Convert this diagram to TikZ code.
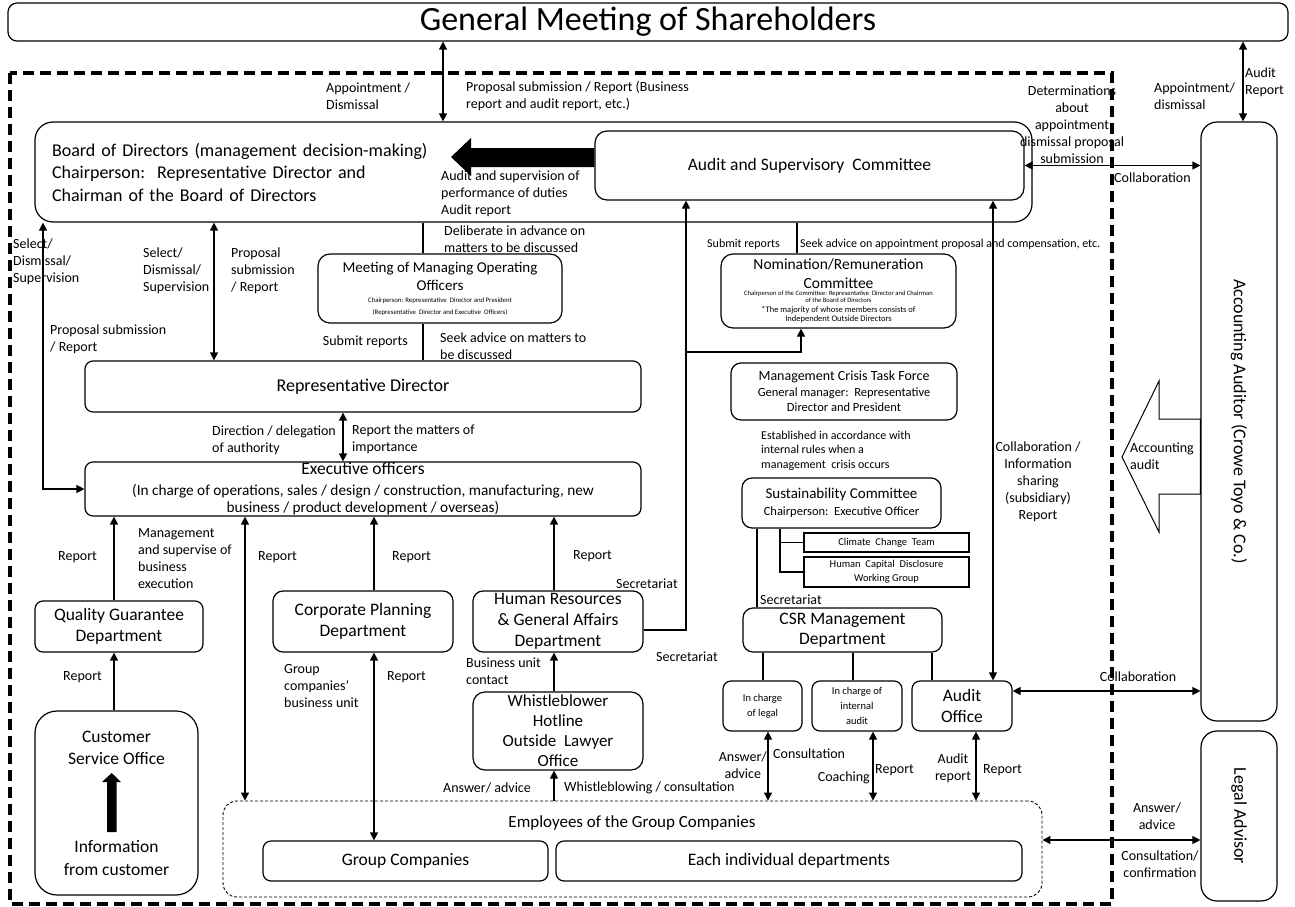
\documentclass[tikz,border=0pt]{standalone}
\usepackage{fontspec}
\setmainfont{Carlito}
\usepackage{graphicx}
\usetikzlibrary{arrows.meta,calc}
\newcommand\fsz[2]{\fontsize{#1}{#2}\selectfont}
\begin{document}
\begin{tikzpicture}[x=1pt,y=-1pt,
  box/.style={draw,rounded corners=8pt,line width=1.2pt,inner sep=0pt,align=center,font=\fsz{17.5}{21}},
  sqbox/.style={draw,line width=1.1pt,inner sep=0pt,align=center,font=\fsz{10.5}{13.5}},
  lbl/.style={inner sep=0pt,font=\fsz{14}{17}},
  ln/.style={line width=1.2pt},
  dbl/.style={ln,{Triangle[length=8pt,width=8pt]}-{Triangle[length=8pt,width=8pt]}},
  arr/.style={ln,-{Triangle[length=8pt,width=8pt]}},
]
\useasboundingbox (0,0) rectangle (1295,907);

% ---------- boxes ----------
\node[box, rounded corners=9pt, minimum width=1280, minimum height=38, font=\fsz{34}{36}] (gm) at (648,22) {General Meeting of Shareholders};

\draw[line width=3.2pt, dash pattern=on 11pt off 6pt] (10,73) rectangle (1112,904);

\node[box, rounded corners=18pt, minimum height=100, text width=963, inner xsep=17pt, align=left, font=\fsz{18}{22.5}] (board) at (533.5,172) {Board of Directors (management decision-making)\\Chairperson:\ \ Representative Director and\\Chairman of the Board of Directors};

\node[box, rounded corners=12pt, minimum width=429, minimum height=69] (audit) at (809.5,165.5) {Audit and Supervisory\ \ Committee};

\node[box, rounded corners=12pt, minimum width=244, minimum height=69, font=\fsz{15}{18}] (meet) at (440,288.5) {Meeting of Managing Operating\\Officers\\[-6pt]\fsz{6.8}{8}Chairperson: Representative\ \ Director and President\\[-6pt]\fsz{6.8}{8}(Representative\ \ Director and Executive\ \ Officers)};

\node[box, rounded corners=12pt, minimum width=235, minimum height=74, font=\fsz{15.5}{19}] (nom) at (838.5,291) {Nomination/Remuneration\\Committee\\[-12pt]\fsz{6.6}{8}Chairperson of the Committee: Representative\ \ Director and Chairman\\[-12pt]\fsz{6.6}{8}of the Board of Directors\\[-8.5pt]\fsz{8.5}{10}*The majority of whose members consists of\\[-10pt]\fsz{8.5}{10}Independent Outside Directors};

\node[box, minimum width=556, minimum height=51, font=\fsz{18}{21}] (rep) at (363,386.5) {Representative Director};

\node[box, minimum width=556, minimum height=54, font=\fsz{15.3}{17}] (exec) at (363,489) {\fsz{17.5}{20}Executive officers\\[4pt](In charge of operations, sales / design / construction, manufacturing, new\\business / product development / overseas)};

\node[box, rounded corners=10pt, minimum width=226, minimum height=57, font=\fsz{12.5}{15}] (mctf) at (844,391.5) {\fsz{14}{15}Management Crisis Task Force\\[1pt]General manager:\ \ Representative\\Director and President};

\node[box, rounded corners=10pt, minimum width=199, minimum height=50, font=\fsz{12.5}{17}] (sust) at (841.5,503) {\fsz{15}{17}Sustainability Committee\\Chairperson:\ \ Executive Officer};

\node[sqbox, minimum width=165, minimum height=19] (clim) at (886.5,542.5) {Climate\ \ Change\ \ Team};
\node[sqbox, minimum width=165, minimum height=30] (hcap) at (886.5,572) {Human\ \ Capital\ \ Disclosure\\Working Group};

\node[box, rounded corners=10pt, minimum width=199, minimum height=44, font=\fsz{17.5}{20}] (csr) at (842.5,630) {CSR Management\\Department};

\node[box, minimum width=79, minimum height=50, font=\fsz{10.5}{15}] (legal) at (762.5,706) {In charge\\of legal};
\node[box, minimum width=90, minimum height=50, font=\fsz{10.5}{15}] (iaud) at (857,706) {In charge of\\internal\\audit};
\node[box, minimum width=100, minimum height=50] (aoff) at (962,706) {Audit\\Office};

\node[box, minimum width=168, minimum height=51] (qg) at (119,626.5) {Quality Guarantee\\Department};
\node[box, rounded corners=10pt, minimum width=180, minimum height=61] (cp) at (363,621.5) {Corporate Planning\\Department};
\node[box, rounded corners=10pt, minimum width=170, minimum height=61, font=\fsz{17.5}{21}] (hr) at (558,621.5) {Human Resources\\\& General Affairs\\Department};
\node[box, rounded corners=12pt, minimum width=170, minimum height=78, font=\fsz{17}{20}] (wb) at (558,731) {Whistleblower\\Hotline\\Outside\ \ Lawyer\\Office};

\node[box, rounded corners=22pt, minimum width=163, minimum height=184] (cust) at (116.5,803) {};
\node[inner sep=0pt, align=center, font=\fsz{17.5}{22}] (custt) at (116.5,748) {Customer\\Service Office};
\node[inner sep=0pt, align=center, font=\fsz{17.5}{23}] (infot) at (116.5,858.5) {Information\\from customer};
\fill (107,832) -- (107,782) -- (102,782) -- (111.7,773) -- (121,782) -- (116.5,782) -- (116.5,832) -- cycle;

\node[draw, rounded corners=14pt, line width=0.9pt, dash pattern=on 3pt off 2pt, minimum width=819, minimum height=96, inner sep=0pt] (emp) at (632.5,849) {};
\node[inner sep=0pt, font=\fsz{17}{20}] (empt) at (632,823) {Employees of the Group Companies};
\node[box, minimum width=285, minimum height=40] (gc) at (405.5,861) {Group Companies};
\node[box, minimum width=466, minimum height=40] (eid) at (789,861) {Each individual departments};

\node[box, rounded corners=16pt, minimum width=76, minimum height=599, font=\fsz{18}{21}] (aa) at (1239,421.5) {\rotatebox[origin=c]{-90}{Accounting Auditor (Crowe Toyo \& Co.)}};
\node[box, rounded corners=16pt, minimum width=76, minimum height=170, font=\fsz{18}{21}] (la) at (1239,816) {\rotatebox[origin=c]{-90}{Legal Advisor}};

% block arrow audit -> board
\coordinate (bdtip) at (451,157);
\fill (audit.west |- 0,148) -- (471,148) -- (471,138) -- (bdtip) -- (471,176) -- (471,167) -- (audit.west |- 0,167) -- cycle;

% hollow accounting audit arrow
\draw[line width=1pt, fill=white] (1122,457) -- (1159,381) -- (1159,419) -- (aa.west |- 0,419) -- (aa.west |- 0,494) -- (1159,494) -- (1159,532) -- cycle;

% ---------- connectors ----------
\draw[dbl] (gm.south -| 443,0) -- (board.north -| 443,0);
\draw[dbl] (gm.south -| 1243,0) -- (aa.north -| 1243,0);
\draw[dbl] (audit.east) -- (aa.west |- audit.east);
\draw[dbl] (audit.south -| 993,0) -- (aoff.north -| 993,0);
\draw[dbl] (board.south -| 214,0) -- (rep.north -| 214,0);
\draw[dbl] (board.south -| 43,0) |- (exec.west);
\draw[ln] (board.south -| 423,0) -- (meet.north -| 423,0);
\draw[ln] (meet.south -| 423,0) -- (rep.north -| 423,0);
\draw[ln] (board.south -| 797,0) -- (nom.north -| 797,0);
\coordinate (hrj) at (686,352);
\draw[arr] (hr.east |- 0,630) -| (audit.south -| hrj);
\draw[arr] (hrj) -| (nom.south -| 801,0);
\draw[dbl] (rep.south -| 343,0) -- (exec.north -| 343,0);
\draw[arr] (qg.north -| 114,0) -- (exec.south -| 114,0);
\draw[dbl] (exec.south -| 245,0) -- (emp.north -| 245,0);
\draw[arr] (cp.north -| 374,0) -- (exec.south -| 374,0);
\draw[arr] (hr.north -| 554,0) -- (exec.south -| 554,0);
\draw[arr] (cust.north -| 114,0) -- (qg.south -| 114,0);
\draw[dbl] (cp.south -| 374,0) -- (gc.north -| 374,0);
\draw[arr] (wb.north -| 554,0) -- (hr.south -| 554,0);
\draw[arr] (emp.north -| 554,0) -- (wb.south -| 554,0);
\draw[ln] (csr.south -| 763,0) -- (legal.north -| 763,0);
\draw[ln] (csr.south -| 853,0) -- (iaud.north -| 853,0);
\draw[ln] (csr.south -| 932,0) -- (aoff.north -| 932,0);
\draw[ln] (sust.south -| 757,0) -- (csr.north -| 757,0);
\draw[ln] (sust.south -| 780,0) |- (hcap.west);
\draw[ln] (clim.west) -- (clim.west -| 780,0);
\draw[dbl] (legal.south -| 768,0) -- (emp.north -| 768,0);
\draw[dbl] (iaud.south -| 873,0) -- (emp.north -| 873,0);
\draw[dbl] (aoff.south -| 976,0) -- (emp.north -| 976,0);
\draw[dbl] (aoff.east |- 0,691) -- (aa.west |- 0,691);
\draw[dbl] (emp.east |- 0,840) -- (la.west |- 0,840);

% ---------- labels ----------
\node[lbl,anchor=west,align=left] (l1) at (326,96) {Appointment /\\Dismissal};
\node[lbl,anchor=west,align=left] (l2) at (466,96.5) {Proposal submission / Report (Business\\report and audit report, etc.)};
\node[lbl,anchor=west,align=left] (l3) at (1245,82) {Audit\\Report};
\node[lbl,anchor=west,align=left] (l4) at (1154,96.5) {Appointment/\\dismissal};
\node[lbl,align=center] (l5) at (1072,125) {Determinations\\about\\appointment\\dismissal proposal\\submission};
\node[lbl,anchor=west] (l6) at (1114,178) {Collaboration};
\node[lbl,anchor=west,align=left] (l7) at (441,194) {Audit and supervision of\\performance of duties\\Audit report};
\node[lbl,anchor=west,align=left] (l8) at (444,239) {Deliberate in advance on\\matters to be discussed};
\node[lbl,anchor=west,align=left] (l9) at (13,262) {Select/\\Dismissal/\\Supervision};
\node[lbl,anchor=west,align=left] (l10) at (143,271) {Select/\\Dismissal/\\Supervision};
\node[lbl,anchor=west,align=left] (l11) at (231,271) {Proposal\\submission\\/ Report};
\node[lbl,anchor=west,align=left] (l12) at (50,339) {Proposal submission\\/ Report};
\node[lbl,anchor=east] (l13) at (408,342) {Submit reports};
\node[lbl,anchor=west,align=left] (l14) at (440,346.5) {Seek advice on matters to\\be discussed};
\node[lbl,anchor=west,font=\fsz{12}{14}] (l15) at (707,244) {Submit reports};
\node[lbl,anchor=west,font=\fsz{12}{14}] (l16) at (800,244) {Seek advice on appointment proposal and compensation, etc.};
\node[lbl,anchor=west,align=left] (l17) at (212,440.5) {Direction / delegation\\of authority};
\node[lbl,anchor=west,align=left] (l18) at (352,439.5) {Report the matters of\\importance};
\node[lbl,anchor=west,align=left,font=\fsz{12}{14.5}] (l19) at (761,450.5) {Established in accordance with\\internal rules when a\\management\ \ crisis occurs};
\node[lbl,align=center] (l20) at (1038,481.5) {Collaboration /\\Information\\sharing\\(subsidiary)\\Report};
\node[lbl,anchor=west,align=left] (l21) at (1130,456.5) {Accounting\\audit};
\node[lbl,anchor=west] (l22) at (58,557) {Report};
\node[lbl,anchor=west,align=left] (l23) at (138,559) {Management\\and supervise of\\business\\execution};
\node[lbl,anchor=west] (l24) at (258,557) {Report};
\node[lbl,anchor=west] (l25) at (392,557) {Report};
\node[lbl,anchor=west] (l26) at (573,556) {Report};
\node[lbl,anchor=west] (l27) at (616,584) {Secretariat};
\node[lbl,anchor=west] (l28) at (656,657) {Secretariat};
\node[lbl,anchor=west] (l29) at (760,600) {Secretariat};
\node[lbl,anchor=west,align=left] (l30) at (466,671) {Business unit\\contact};
\node[lbl,anchor=west] (l31) at (63,677) {Report};
\node[lbl,anchor=west,align=left] (l32) at (284,686) {Group\\companies’\\business unit};
\node[lbl,anchor=west] (l33) at (387,677) {Report};
\node[lbl,anchor=west] (l34) at (443,788) {Answer/ advice};
\node[lbl,anchor=west] (l35) at (564,788) {Whistleblowing / consultation};
\node[lbl,anchor=east,align=center] (l36) at (767,765) {Answer/\\advice};
\node[lbl,anchor=west] (l37) at (773,754) {Consultation};
\node[lbl,anchor=east] (l38) at (870,778) {Coaching};
\node[lbl,anchor=west] (l39) at (875,770) {Report};
\node[lbl,align=center] (l40) at (953,768) {Audit\\report};
\node[lbl,anchor=west] (l41) at (983,770) {Report};
\node[lbl] (l42) at (1138,677) {Collaboration};
\node[lbl,align=center] (l43) at (1157,816.5) {Answer/\\advice};
\node[lbl,align=center] (l44) at (1160,864.5) {Consultation/\\confirmation};
\end{tikzpicture}
\end{document}
